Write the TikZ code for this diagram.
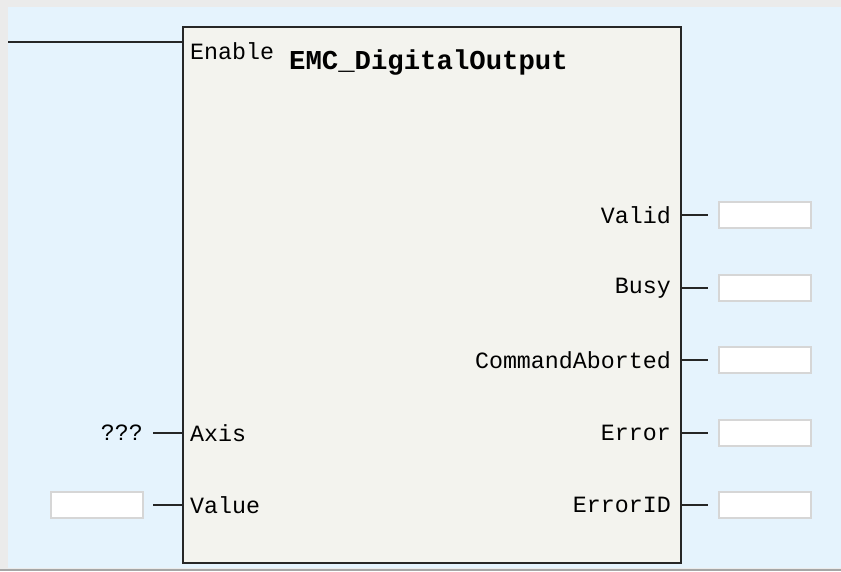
\documentclass[tikz,border=0pt]{standalone}
\usepackage{fontspec}
\setmonofont{Liberation Mono}
\definecolor{bgblue}{HTML}{E5F3FD}
\definecolor{framegray}{HTML}{EBEBEB}
\definecolor{blockfill}{HTML}{F3F3EE}
\definecolor{boxedge}{HTML}{D6D6D6}
\tikzset{
  pinlbl/.style={font=\ttfamily\fontsize{23.3}{23.3}\selectfont, inner sep=0pt, text=black},
  valbox/.style={draw=boxedge, line width=1.5pt, fill=white, minimum width=92pt, minimum height=26pt, inner sep=0pt},
  wire/.style={draw=black!85, line width=1.8pt},
}
\begin{document}
\begin{tikzpicture}[x=1pt,y=-1pt]
\useasboundingbox (0,0) rectangle (841,571);
\fill[framegray] (0,0) rectangle (841,571);
\fill[bgblue] (8,7) rectangle (841,568);
\fill[black!35] (0,569) rectangle (841,571);
% block
\node[draw=black!85, line width=2pt, fill=blockfill, minimum width=498pt, minimum height=536pt, inner sep=0pt, anchor=north west] (blk) at (182,26) {};
% enable
\coordinate (enL) at (8,42);
\coordinate (enR) at (182,42);
\draw[wire] (enL) -- (enR);
\node[pinlbl, anchor=west] (en) at (190,51) {Enable};
\node[font=\ttfamily\bfseries\fontsize{27.3}{27.3}\selectfont, inner sep=0pt, anchor=west] (title) at (289,62) {EMC\_DigitalOutput};
% outputs
\foreach \nm/\lbl/\yy in {valid/Valid/215, busy/Busy/288, cab/CommandAborted/360, err/Error/433, eid/ErrorID/505}{
  \node[pinlbl, anchor=east] (\nm l) at (671,\yy) {\lbl};
  \coordinate (\nm a) at (680,\yy);
  \node[valbox] (\nm b) at (765,\yy) {};
  \draw[wire] (\nm a) -- (708,\yy);
}
% inputs
\node[pinlbl, anchor=west] (axl) at (190,433) {Axis};
\node[pinlbl, anchor=west] (vall) at (190,505) {Value};
\node[pinlbl, anchor=east] (q) at (143,433) {???};
\coordinate (axa) at (182,433);
\coordinate (vala) at (182,505);
\node[valbox] (valb) at (97,505) {};
\draw[wire] (153,433) -- (axa);
\draw[wire] (153,505) -- (vala);
\end{tikzpicture}
\end{document}
